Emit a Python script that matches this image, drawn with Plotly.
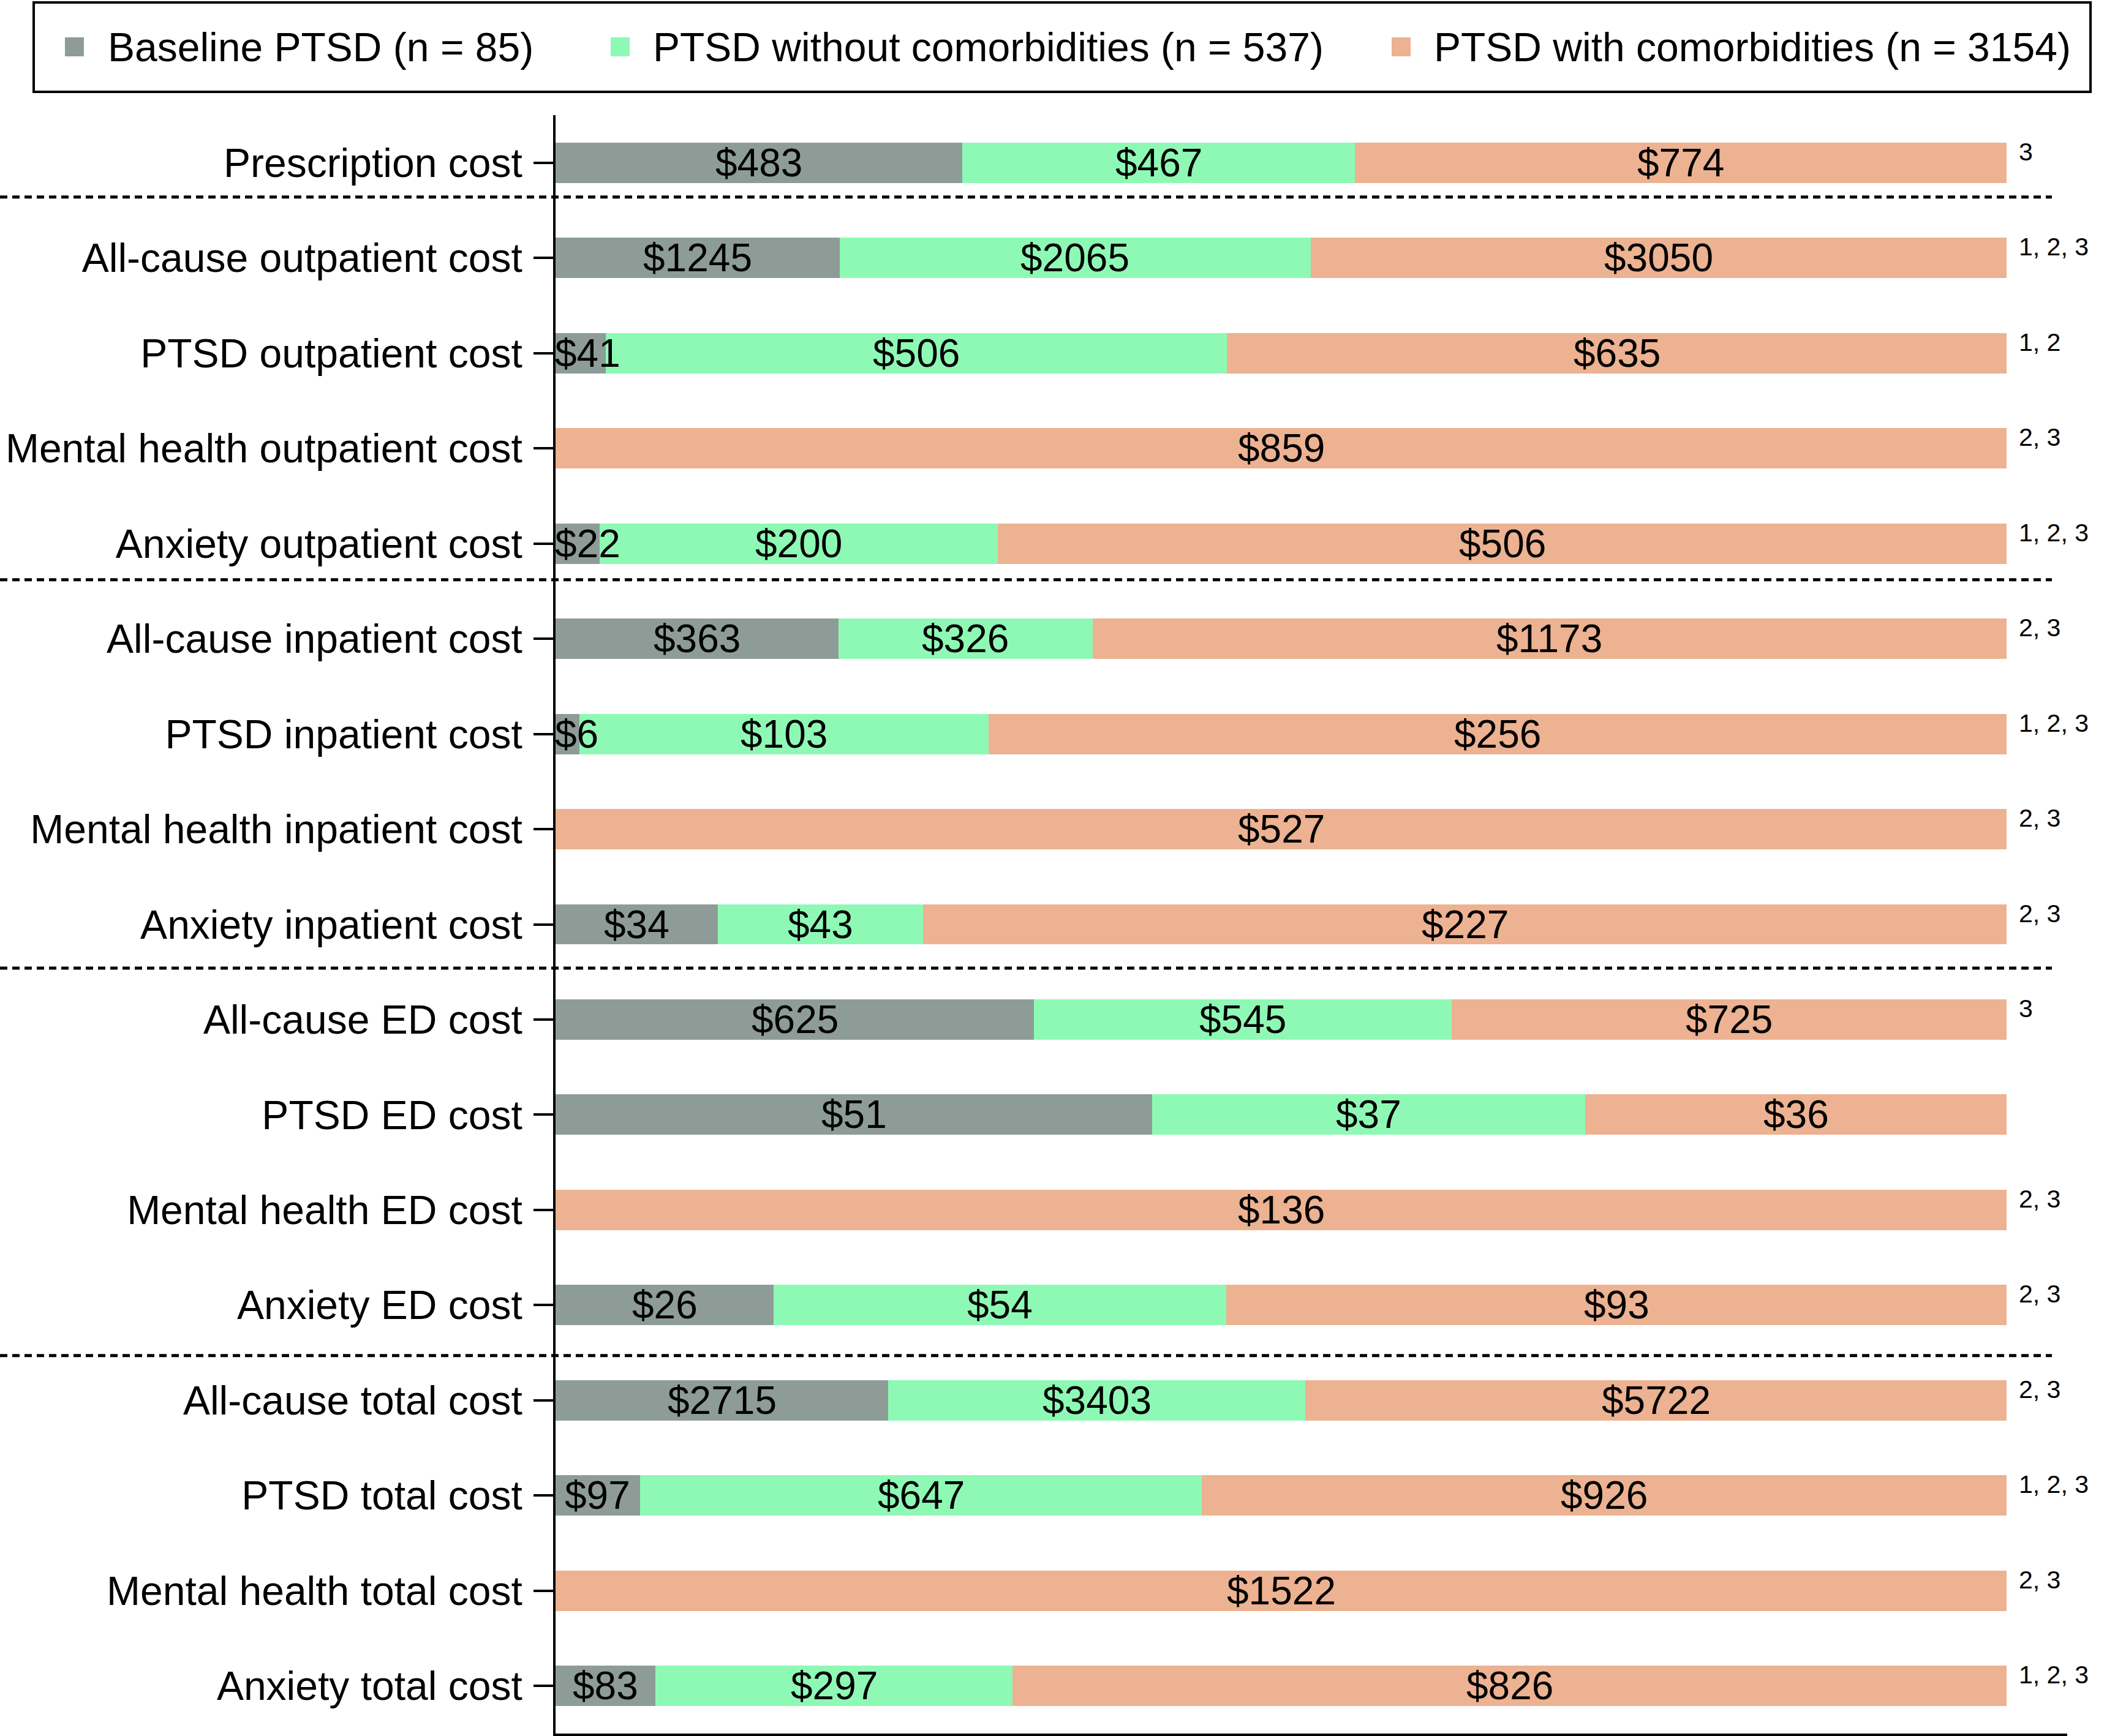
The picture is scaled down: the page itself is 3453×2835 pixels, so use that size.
import plotly.graph_objects as go

categories = [
    "Prescription cost",
    "All-cause outpatient cost", "PTSD outpatient cost",
    "Mental health outpatient cost", "Anxiety outpatient cost",
    "All-cause inpatient cost", "PTSD inpatient cost",
    "Mental health inpatient cost", "Anxiety inpatient cost",
    "All-cause ED cost", "PTSD ED cost",
    "Mental health ED cost", "Anxiety ED cost",
    "All-cause total cost", "PTSD total cost",
    "Mental health total cost", "Anxiety total cost",
]
baseline = [483, 1245, 41, None, 22, 363, 6, None, 34, 625, 51, None, 26, 2715, 97, None, 83]
without_comorb = [467, 2065, 506, None, 200, 326, 103, None, 43, 545, 37, None, 54, 3403, 647, None, 297]
with_comorb = [774, 3050, 635, 859, 506, 1173, 256, 527, 227, 725, 36, 136, 93, 5722, 926, 1522, 826]
notes = ["3", "1, 2, 3", "1, 2", "2, 3", "1, 2, 3", "2, 3", "1, 2, 3", "2, 3", "2, 3",
         "3", "", "2, 3", "2, 3", "2, 3", "1, 2, 3", "2, 3", "1, 2, 3"]
series_names = ["Baseline PTSD (n = 85)", "PTSD without comorbidities (n = 537)",
                "PTSD with comorbidities (n = 3154)"]
series_colors = ["#8E9C98", "#8EF9B5", "#ECB291"]
separator_after = [0.36, 4.38, 8.46, 12.53]

series = [baseline, without_comorb, with_comorb]

W, H = 3453, 2835
L, R, T, B = 907, 3375, 188, 2831
FONT = "Liberation Sans, Arial, Helvetica, sans-serif"
XMAX = (R - L) / (3276 - L)


def px(p):
    return (p - L) / (R - L)


def py(q):
    return (B - q) / (B - T)


totals = [sum(v[i] for v in series if v[i] is not None) for i in range(len(categories))]
shares = [[(v[i] / totals[i]) if v[i] is not None else None for i in range(len(categories))]
          for v in series]

fig = go.Figure()
for name, color, sh in zip(series_names, series_colors, shares):
    fig.add_trace(go.Bar(
        x=sh, y=categories, orientation="h", name=name,
        marker=dict(color=color, line=dict(width=0)),
        showlegend=False,
    ))

annotations = []
# value labels
starts = [0.0] * len(categories)
for vals, sh in zip(series, shares):
    for i, (v, s) in enumerate(zip(vals, sh)):
        if v is None:
            continue
        label = f"${v}"
        est_w = len(label) * 0.556 * 64 / (3276 - L)
        if est_w > s:
            annotations.append(dict(x=starts[i], y=categories[i], text=label, xref="x", yref="y",
                                    xanchor="left", yanchor="middle", showarrow=False,
                                    xshift=-3, font=dict(size=64, color="black", family=FONT)))
        else:
            annotations.append(dict(x=starts[i] + s / 2, y=categories[i], text=label, xref="x", yref="y",
                                    xanchor="center", yanchor="middle", showarrow=False,
                                    font=dict(size=64, color="black", family=FONT)))
        starts[i] += s

# significance notes
for i, n in enumerate(notes):
    if n:
        annotations.append(dict(x=1.0, y=categories[i], text=n, xref="x", yref="y",
                                xanchor="left", yanchor="middle", showarrow=False,
                                xshift=18, yshift=18,
                                font=dict(size=41, color="black", family=FONT)))

shapes = []
for yv in separator_after:
    shapes.append(dict(type="line", xref="paper", yref="y", x0=px(0), x1=px(3350), y0=yv, y1=yv,
                       line=dict(color="black", width=5, dash="12px,8px")))

# legend box
shapes.append(dict(type="rect", xref="paper", yref="paper", x0=px(55), x1=px(3413), y0=py(150), y1=py(4),
                   line=dict(color="black", width=4), fillcolor="rgba(0,0,0,0)"))
legend_marker_x = [106, 997, 2272]
legend_text_x = [174, 1064, 2339]
for name, color, mx, tx in zip(series_names, series_colors, legend_marker_x, legend_text_x):
    shapes.append(dict(type="rect", xref="paper", yref="paper", x0=px(mx), x1=px(mx + 31),
                       y0=py(92), y1=py(61), line=dict(width=0), fillcolor=color))
    annotations.append(dict(x=px(tx), y=py(77), xref="paper", yref="paper", text=name,
                            xanchor="left", yanchor="middle", showarrow=False,
                            font=dict(size=66, color="black", family=FONT)))

fig.update_layout(
    width=W, height=H,
    margin=dict(l=L, r=W - R, t=T, b=H - B, pad=0),
    barmode="stack", bargap=0.576,
    plot_bgcolor="white", paper_bgcolor="white",
    font=dict(family=FONT, color="black", size=66),
    shapes=shapes, annotations=annotations,
    showlegend=False,
)
fig.update_xaxes(range=[0, XMAX], showline=True, linewidth=4, linecolor="black",
                 showticklabels=False, ticks="", showgrid=False, zeroline=False)
fig.update_yaxes(autorange="reversed", showline=True, linewidth=4, linecolor="black",
                 ticks="outside", ticklen=32, tickwidth=4, tickcolor="black",
                 ticklabelstandoff=5, showgrid=False, zeroline=False,
                 tickfont=dict(size=66, color="black", family=FONT))

fig.write_html("out.html", config={"displayModeBar": False},
               post_script="document.body.style.margin='0';")
